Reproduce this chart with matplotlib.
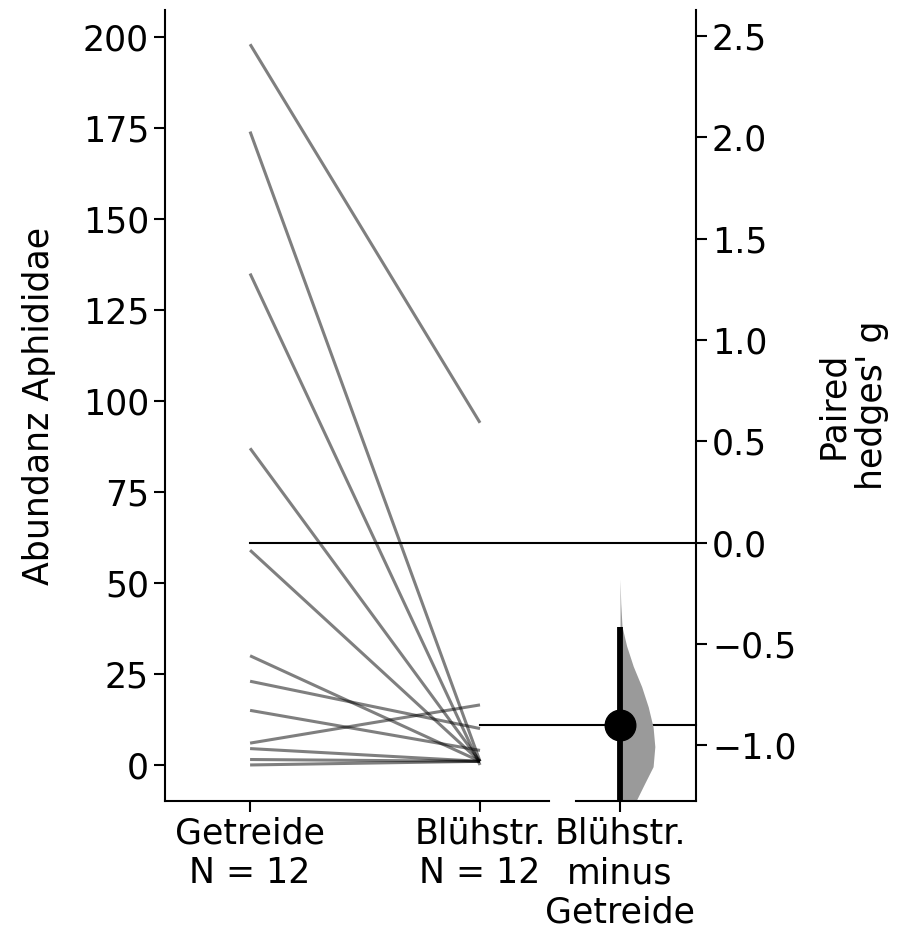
import matplotlib
matplotlib.use("Agg")
import matplotlib.pyplot as plt
import numpy as np

# paired counts per site
getreide = [198, 174, 135, 87, 59, 30, 23, 15, 6, 4.5, 1.5, 0]
bluehstr = [94, 1, 0, 1, 1, 1, 10, 4, 16.5, 1, 1, 1]

group_labels = ["Getreide\nN = 12", "Blühstr.\nN = 12"]
delta_label = "Blühstr.\nminus\nGetreide"

# effect size and its bootstrap distribution
hedges_g = -0.90
ci_low, ci_high = -1.45, -0.415
boot_g = [-0.18, -0.30, -0.414, -0.51, -0.61, -0.71, -0.81, -0.91,
          -1.006, -1.105, -1.187, -1.253, -1.285, -1.35]
boot_density = [0.0, 0.02, 0.057, 0.19, 0.38, 0.62, 0.81, 0.95,
                1.0, 0.95, 0.71, 0.52, 0.43, 0.33]

fs = 25
plt.rcParams['font.family'] = ['DejaVu Sans']
plt.rcParams['font.size'] = fs

W, H = 918, 940
fig = plt.figure(figsize=(W / 100, H / 100), dpi=100)

# axes placed by pixel edges
ax = fig.add_axes([165 / W, 1 - 801 / H, 384 / W, 791 / H])
ax2 = fig.add_axes([576 / W, 1 - 801 / H, 120 / W, 791 / H])

# slopegraph
for a, b in zip(getreide, bluehstr):
    ax.plot([0, 1], [a, b], color='black', alpha=0.5, lw=2.2,
            solid_capstyle='butt')

ax.set_xlim(-0.37, 1.30)
left_ylim = (-9.9, 207.4)
ax.set_ylim(left_ylim)
ax.set_xticks([0, 1])
ax.set_xticklabels(group_labels)
ax.set_yticks(np.arange(0, 201, 25))
ax.set_ylabel("Abundanz Aphididae", labelpad=19)
ax.spines['top'].set_visible(False)
ax.spines['right'].set_visible(False)

# effect size axis aligned: 0 <-> control mean, g <-> test mean
ctrl_mean = np.mean(getreide)
test_mean = np.mean(bluehstr)
scale = hedges_g / (test_mean - ctrl_mean)
ax2.set_ylim([(v - ctrl_mean) * scale for v in left_ylim])
ax2.set_xlim(-0.367, 0.633)

half_w = 0.29
ax2.fill_betweenx(boot_g, 0, np.array(boot_density) * half_w,
                  color='#9a9a9a', lw=0, zorder=1)
ax2.plot([0, 0], [ci_low, ci_high], color='black', lw=4.2, zorder=3,
         solid_capstyle='butt')
ax2.plot(0, hedges_g, 'o', color='black', ms=22, zorder=4)

ax2.set_xticks([0])
ax2.set_xticklabels([delta_label])
ax2.set_yticks(np.arange(-1.0, 2.51, 0.5))
ax2.yaxis.tick_right()
ax2.yaxis.set_label_position('right')
ax2.set_ylabel("Paired\nhedges' g", labelpad=14)
ax2.spines['top'].set_visible(False)
ax2.spines['left'].set_visible(False)

for a_ in (ax, ax2):
    for s in a_.spines.values():
        s.set_linewidth(1.5)
    a_.tick_params(length=8, width=1.5, labelsize=fs)
    a_.patch.set_alpha(0)

# reference lines running across to the right edge of the delta axes
x_end = ax.transData.inverted().transform(
    ax2.transAxes.transform((1, 0)))[0]
ax.plot([0, x_end], [ctrl_mean, ctrl_mean], color='black', lw=1.5,
        clip_on=False, zorder=5)
ax.plot([1, x_end], [test_mean, test_mean], color='black', lw=1.5,
        clip_on=False, zorder=5)

fig.savefig("out.png", dpi=100)
